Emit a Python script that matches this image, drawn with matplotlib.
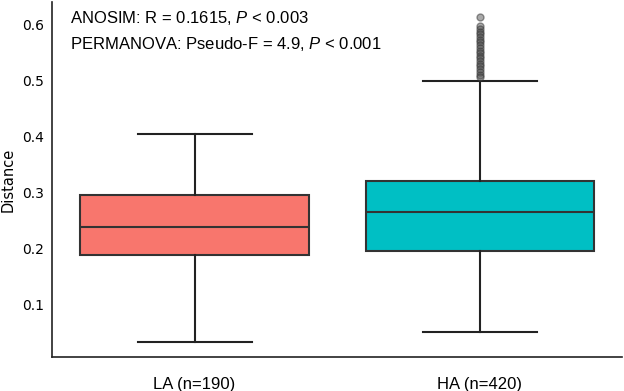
import matplotlib.pyplot as plt

plt.rcParams['mathtext.fontset'] = 'custom'
plt.rcParams['mathtext.rm'] = 'Liberation Sans'
plt.rcParams['mathtext.it'] = 'Liberation Sans:italic'

groups = ['LA (n=190)', 'HA (n=420)']
whislo = [0.0336, 0.0515]
q1 = [0.1882, 0.1964]
med = [0.2394, 0.2662]
q3 = [0.2955, 0.3206]
whishi = [0.404, 0.4995]
ha_outliers = [0.614, 0.598, 0.593, 0.588, 0.583, 0.578, 0.573, 0.569, 0.564,
               0.559, 0.554, 0.549, 0.545, 0.540, 0.535, 0.530, 0.526, 0.521,
               0.516, 0.511, 0.506]
fliers = [[], ha_outliers]
colors = ['#F8766D', '#00BFC4']

stats = []
for i in range(len(groups)):
    stats.append({'label': groups[i], 'whislo': whislo[i], 'q1': q1[i], 'med': med[i],
                  'q3': q3[i], 'whishi': whishi[i], 'fliers': fliers[i]})

fig = plt.figure(figsize=(6.24, 3.91), dpi=100)
ax = fig.add_axes([0.0833, 0.0862, 0.9137, 0.9088])

edge = '#333333'
bp = ax.bxp(stats, positions=[0, 1], widths=0.8, patch_artist=True,
            boxprops=dict(edgecolor=edge, linewidth=1.5),
            medianprops=dict(color=edge, linewidth=1.5),
            whiskerprops=dict(color='#222222', linewidth=1.5),
            capprops=dict(color='#222222', linewidth=1.5),
            capwidths=0.4,
            flierprops=dict(marker='o', markersize=5, markerfacecolor='#555555',
                            markeredgecolor='#333333', alpha=0.5))
for patch, c in zip(bp['boxes'], colors):
    patch.set_facecolor(c)

ax.set_xlim(-0.5, 1.5)
ax.set_ylim(0.0055, 0.641)
ax.set_yticks([0.1, 0.2, 0.3, 0.4, 0.5, 0.6])
ax.set_xticks([0, 1])
ax.set_xticklabels(groups, fontsize=12, family='Liberation Sans')
ax.tick_params(axis='both', length=0, pad=6)
ax.tick_params(axis='x', pad=14)
ax.tick_params(axis='y', labelsize=10)
ax.set_ylabel('Distance', fontsize=10.5)
ax.yaxis.labelpad = 4
for s in ['top', 'right']:
    ax.spines[s].set_visible(False)
for s in ['left', 'bottom']:
    ax.spines[s].set_color('#222222')
    ax.spines[s].set_linewidth(1.2)

ax.text(0.0316, 0.954, 'ANOSIM: R = 0.1615, $\\it{P}$ < 0.003', transform=ax.transAxes,
        fontsize=12, family='Liberation Sans', va='center', ha='left')
ax.text(0.0316, 0.881, 'PERMANOVA: Pseudo-F = 4.9, $\\it{P}$ < 0.001', transform=ax.transAxes,
        fontsize=12, family='Liberation Sans', va='center', ha='left')

fig.savefig('out.png', dpi=100)
